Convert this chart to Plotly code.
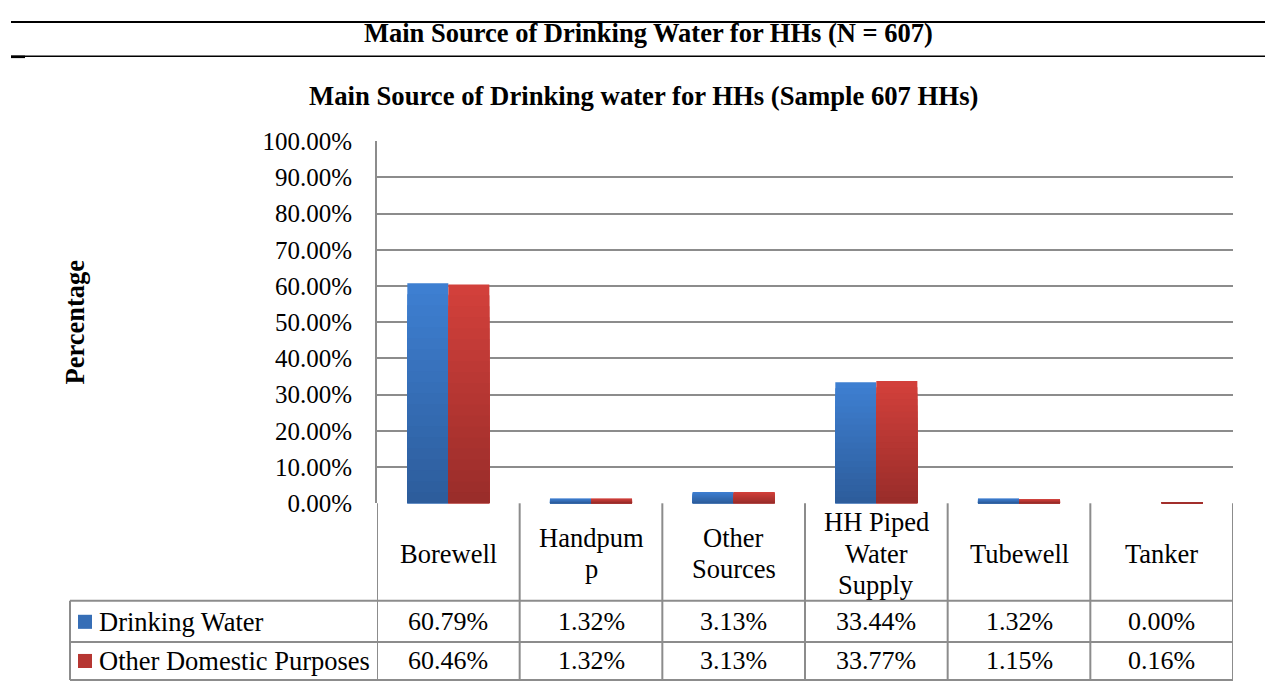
import plotly.graph_objects as go

categories = ["Borewell", "Handpump", "Other Sources", "HH Piped Water Supply", "Tubewell", "Tanker"]
category_labels = ["Borewell", "Handpum<br>p", "Other<br>Sources", "HH Piped<br>Water<br>Supply", "Tubewell", "Tanker"]
series_names = ["Drinking Water", "Other Domestic Purposes"]
drinking_water = [60.79, 1.32, 3.13, 33.44, 1.32, 0.00]
other_domestic = [60.46, 1.32, 3.13, 33.77, 1.15, 0.16]
y_ticks = [0, 10, 20, 30, 40, 50, 60, 70, 80, 90, 100]
y_tick_labels = [f"{v:.2f}%" for v in y_ticks]

# page/render calibration
OX = 8
W, H = 1257, 678
A_Y, B_Y = 21.8, 0.956

FONT = "Liberation Serif, Times New Roman, serif"
GRID = "#8c8c8c"
BLUE_TOP, BLUE_BOT = (62, 127, 209), (45, 93, 156)
RED_TOP, RED_BOT = (210, 64, 59), (154, 45, 42)
STEPS = 20


def px(x):
    return (x - OX) / W


def py(y):
    yf = max((y - A_Y) / B_Y, 1.0)
    return 1 - yf / H


def mix(c1, c2, t):
    return "rgb({},{},{})".format(*[round(a + (b - a) * t) for a, b in zip(c1, c2)])


PLOT_L, PLOT_R, PLOT_T, PLOT_B = 377, 1233, 141.5, 502

fig = go.Figure()
for vals, name, ctop, cbot, grp in [(drinking_water, series_names[0], BLUE_TOP, BLUE_BOT, "dw"),
                                    (other_domestic, series_names[1], RED_TOP, RED_BOT, "od")]:
    for k in range(STEPS):
        frac = 1 - k / STEPS
        fig.add_trace(go.Bar(x=categories, y=[v * frac for v in vals], name=name, offsetgroup=grp,
                             marker=dict(color=mix(ctop, cbot, k / (STEPS - 1)), line=dict(width=0)),
                             customdata=vals, hovertemplate="%{x}: %{customdata:.2f}%<extra>" + name + "</extra>",
                             showlegend=False))

shapes = []
annotations = []

# top rule lines and title
shapes.append(dict(type="line", xref="paper", yref="paper", x0=px(11), x1=1, y0=py(15.5), y1=py(15.5),
                   line=dict(color="black", width=2)))
shapes.append(dict(type="line", xref="paper", yref="paper", x0=px(11), x1=1, y0=py(57), y1=py(57),
                   line=dict(color="black", width=1.5)))
shapes.append(dict(type="line", xref="paper", yref="paper", x0=px(11), x1=px(25), y0=py(57.5), y1=py(57.5),
                   line=dict(color="black", width=2.5)))
annotations.append(dict(text="<b>Main Source of Drinking Water for HHs (N = 607)</b>", xref="paper", yref="paper",
                        x=px(648), y=py(34), showarrow=False, xanchor="center", yanchor="middle",
                        font=dict(family=FONT, size=26.5, color="black")))
annotations.append(dict(text="<b>Main Source of Drinking water for HHs (Sample 607 HHs)</b>", xref="paper", yref="paper",
                        x=px(643), y=py(96), showarrow=False, xanchor="center", yanchor="middle",
                        font=dict(family=FONT, size=26.7, color="black")))
annotations.append(dict(text="<b>Percentage</b>", xref="paper", yref="paper", x=px(75), y=py(322),
                        showarrow=False, textangle=-90, xanchor="center", yanchor="middle",
                        font=dict(family=FONT, size=26.5, color="black")))

# data table
ROW_HDR_B, ROW1_B, ROW2_B = 599, 640, 678
TABLE_L = 70
LINE_STEP = 31
n = len(categories)
for i in range(n + 1):
    shapes.append(dict(type="line", xref="x", yref="paper", x0=i - 0.5, x1=i - 0.5,
                       y0=py(PLOT_B), y1=py(ROW2_B), line=dict(color=GRID, width=2)))
shapes.append(dict(type="line", xref="paper", yref="paper", x0=px(TABLE_L), x1=px(TABLE_L),
                   y0=py(ROW_HDR_B), y1=py(ROW2_B), line=dict(color=GRID, width=2)))
for yy in [ROW_HDR_B, ROW1_B, ROW2_B]:
    shapes.append(dict(type="line", xref="paper", yref="paper", x0=px(TABLE_L), x1=px(PLOT_R),
                       y0=py(yy), y1=py(yy), line=dict(color=GRID, width=2)))

hdr_center = 552
for i, lab in enumerate(category_labels):
    lines = lab.split("<br>")
    for j, ln in enumerate(lines):
        yc = hdr_center + (j - (len(lines) - 1) / 2) * LINE_STEP
        annotations.append(dict(text=ln, xref="x", yref="paper", x=categories[i], y=py(yc),
                                showarrow=False, xanchor="center", yanchor="middle",
                                font=dict(family=FONT, size=26.5, color="black")))

row_centers = [620, 659]
for r, (vals, name, col) in enumerate([(drinking_water, series_names[0], mix(BLUE_TOP, BLUE_BOT, 0.5)),
                                       (other_domestic, series_names[1], mix(RED_TOP, RED_BOT, 0.5))]):
    yc = row_centers[r]
    for i, v in enumerate(vals):
        annotations.append(dict(text=f"{v:.2f}%", xref="x", yref="paper", x=categories[i], y=py(yc),
                                showarrow=False, xanchor="center", yanchor="middle",
                                font=dict(family=FONT, size=26, color="black")))
    shapes.append(dict(type="rect", xref="paper", yref="paper", x0=px(78), x1=px(92),
                       y0=py(yc - 7), y1=py(yc + 7), fillcolor=col, line=dict(width=0)))
    annotations.append(dict(text=name, xref="paper", yref="paper", x=px(97), y=py(yc),
                            showarrow=False, xanchor="left", yanchor="middle",
                            font=dict(family=FONT, size=26.5, color="black")))

fig.update_layout(
    width=W, height=H, autosize=False,
    margin=dict(l=0, r=0, t=0, b=0),
    paper_bgcolor="white", plot_bgcolor="white",
    showlegend=False,
    barmode="group", bargap=0.425, bargroupgap=0,
    shapes=shapes, annotations=annotations,
    xaxis=dict(domain=[px(PLOT_L), px(PLOT_R)], showticklabels=False, showgrid=False,
               zeroline=False, showline=False, range=[-0.5, n - 0.5], fixedrange=True),
    yaxis=dict(domain=[py(PLOT_B), py(PLOT_T)], range=[0, 100], tickvals=y_ticks, ticktext=y_tick_labels,
               showgrid=True, gridcolor=GRID, gridwidth=2, zeroline=False,
               showline=True, linecolor=GRID, linewidth=2, ticks="", ticklabelstandoff=18,
               tickfont=dict(family=FONT, size=25, color="black"), fixedrange=True),
)

fig.write_html("out.html")
